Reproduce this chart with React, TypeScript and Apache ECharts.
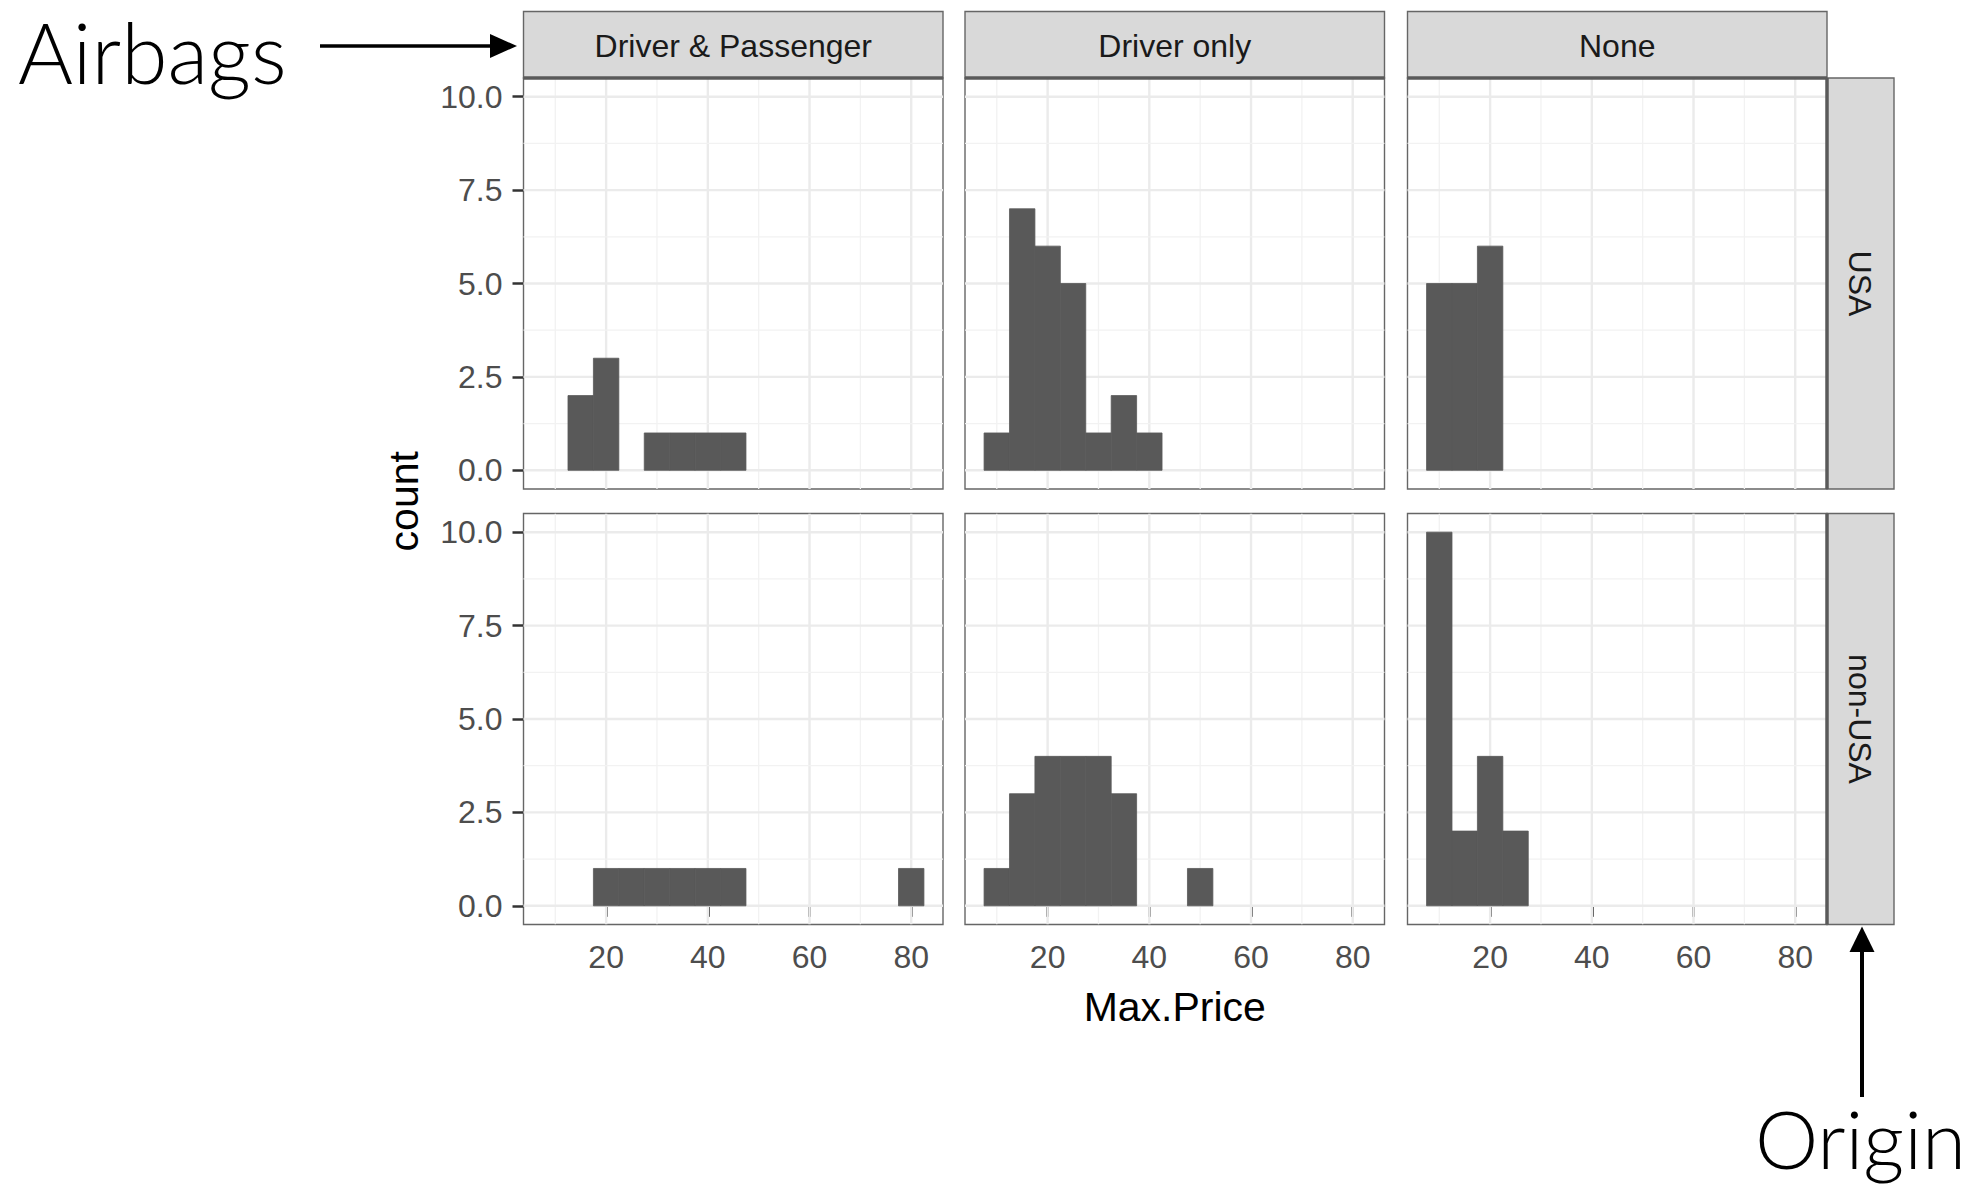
import React, { useEffect, useRef } from "react";
import * as echarts from "echarts";

// ---------- data ----------
const BIN_WIDTH = 5;
const BIN_CENTERS = [10, 15, 20, 25, 30, 35, 40, 45, 50, 55, 60, 65, 70, 75, 80];
const AIRBAGS = ["Driver & Passenger", "Driver only", "None"];
const ORIGINS = ["USA", "non-USA"];

const COUNTS_USA_DRIVER_PASSENGER = [0, 2, 3, 0, 1, 1, 1, 1, 0, 0, 0, 0, 0, 0, 0];
const COUNTS_USA_DRIVER_ONLY = [1, 7, 6, 5, 1, 2, 1, 0, 0, 0, 0, 0, 0, 0, 0];
const COUNTS_USA_NONE = [5, 5, 6, 0, 0, 0, 0, 0, 0, 0, 0, 0, 0, 0, 0];
const COUNTS_NONUSA_DRIVER_PASSENGER = [0, 0, 1, 1, 1, 1, 1, 1, 0, 0, 0, 0, 0, 0, 1];
const COUNTS_NONUSA_DRIVER_ONLY = [1, 3, 4, 4, 4, 3, 0, 0, 1, 0, 0, 0, 0, 0, 0];
const COUNTS_NONUSA_NONE = [10, 2, 4, 2, 0, 0, 0, 0, 0, 0, 0, 0, 0, 0, 0];

const COUNTS = [
  [COUNTS_USA_DRIVER_PASSENGER, COUNTS_USA_DRIVER_ONLY, COUNTS_USA_NONE],
  [COUNTS_NONUSA_DRIVER_PASSENGER, COUNTS_NONUSA_DRIVER_ONLY, COUNTS_NONUSA_NONE],
];

const X_TICKS = [20, 40, 60, 80];
const X_MINOR = [10, 30, 50, 70];
const Y_TICKS = [0, 2.5, 5, 7.5, 10];
const Y_MINOR = [1.25, 3.75, 6.25, 8.75];
const X_MIN = 3.75;
const X_MAX = 86.25;
const Y_MIN = -0.5;
const Y_MAX = 10.5;

const X_TITLE = "Max.Price";
const Y_TITLE = "count";
const NOTE_COLS = "Airbags";
const NOTE_ROWS = "Origin";

// ---------- layout ----------
const W = 1973;
const H = 1187;
const COL_LEFT = [523.5, 965, 1407.5];
const PANEL_W = 419.5;
const ROW_TOP = [78, 513.5];
const PANEL_H = 411;
const STRIP_TOP = 11.5;
const STRIP_RW = 67;

const FONT = "'Liberation Sans', Arial, Helvetica, sans-serif";
const NOTE_FONT = "Lato, 'Open Sans', 'Liberation Sans', sans-serif";
const BAR_FILL = "#595959";
const BORDER = "#666666";
const DARK = "#5a5a5a";

export default function App() {
  const ref = useRef<HTMLDivElement | null>(null);

  useEffect(() => {
    if (!ref.current) return;
    const chart = echarts.init(ref.current, undefined, { renderer: "svg" });

    const grids: any[] = [];
    const xAxes: any[] = [];
    const yAxes: any[] = [];
    const series: any[] = [];

    const gridData: number[][] = [];
    X_TICKS.forEach((v) => gridData.push([0, v, 1]));
    X_MINOR.forEach((v) => gridData.push([0, v, 0]));
    Y_TICKS.forEach((v) => gridData.push([1, v, 1]));
    Y_MINOR.forEach((v) => gridData.push([1, v, 0]));

    let idx = 0;
    for (let r = 0; r < 2; r++) {
      for (let c = 0; c < 3; c++) {
        grids.push({
          left: COL_LEFT[c],
          top: ROW_TOP[r],
          width: PANEL_W,
          height: PANEL_H,
          show: true,
          backgroundColor: "#ffffff",
          borderColor: BORDER,
          borderWidth: 1.4,
          containLabel: false,
          outerBoundsMode: "none",
        });
        const bottomRow = r === 1;
        const leftCol = c === 0;
        xAxes.push({
          type: "value",
          gridIndex: idx,
          min: X_MIN,
          max: X_MAX,
          axisLine: { show: false },
          splitLine: { show: false },
          axisTick: {
            show: bottomRow,
            length: 11,
            customValues: X_TICKS,
            lineStyle: { color: "#333333", width: 2.5 },
          },
          axisLabel: {
            show: bottomRow,
            customValues: X_TICKS,
            margin: 16,
            fontSize: 32,
            fontFamily: FONT,
            color: "#4D4D4D",
          },
        });
        yAxes.push({
          type: "value",
          gridIndex: idx,
          min: Y_MIN,
          max: Y_MAX,
          axisLine: { show: false },
          splitLine: { show: false },
          axisTick: {
            show: leftCol,
            length: 11,
            customValues: Y_TICKS,
            lineStyle: { color: "#333333", width: 2.5 },
          },
          axisLabel: {
            show: leftCol,
            customValues: Y_TICKS,
            margin: 21,
            fontSize: 32,
            fontFamily: FONT,
            color: "#4D4D4D",
            formatter: (v: number) => v.toFixed(1),
          },
        });

        series.push({
          type: "custom",
          xAxisIndex: idx,
          yAxisIndex: idx,
          z: 1,
          silent: true,
          clip: true,
          data: gridData,
          renderItem: (params: any, api: any) => {
            const cs = params.coordSys;
            const orient = api.value(0);
            const v = api.value(1);
            const major = api.value(2) === 1;
            const style = {
              stroke: major ? "#EBEBEB" : "#F2F2F2",
              lineWidth: major ? 2.4 : 1.3,
            };
            if (orient === 0) {
              const px = api.coord([v, 0])[0];
              return {
                type: "line",
                shape: { x1: px, y1: cs.y, x2: px, y2: cs.y + cs.height },
                style,
              };
            }
            const py = api.coord([X_TICKS[0], v])[1];
            return {
              type: "line",
              shape: { x1: cs.x, y1: py, x2: cs.x + cs.width, y2: py },
              style,
            };
          },
        });

        const counts = COUNTS[r][c];
        const barData = BIN_CENTERS.map((bc, i) => [bc, counts[i]]).filter(
          (d) => d[1] > 0
        );
        series.push({
          type: "custom",
          name: `${ORIGINS[r]} / ${AIRBAGS[c]}`,
          xAxisIndex: idx,
          yAxisIndex: idx,
          z: 2,
          data: barData,
          renderItem: (params: any, api: any) => {
            const center = api.value(0);
            const n = api.value(1);
            const p0 = api.coord([center - BIN_WIDTH / 2, n]);
            const p1 = api.coord([center + BIN_WIDTH / 2, 0]);
            return {
              type: "rect",
              shape: {
                x: p0[0],
                y: p0[1],
                width: p1[0] - p0[0],
                height: p1[1] - p0[1],
              },
              style: { fill: BAR_FILL, stroke: BAR_FILL, lineWidth: 0.8 },
            };
          },
        });
        idx++;
      }
    }

    const graphic: any[] = [];
    // top strips
    for (let c = 0; c < 3; c++) {
      graphic.push({
        type: "rect",
        z: 50,
        shape: { x: COL_LEFT[c], y: STRIP_TOP, width: PANEL_W, height: ROW_TOP[0] - STRIP_TOP },
        style: { fill: "#D9D9D9", stroke: BORDER, lineWidth: 1.4 },
      });
      graphic.push({
        type: "line",
        z: 51,
        shape: { x1: COL_LEFT[c], y1: ROW_TOP[0], x2: COL_LEFT[c] + PANEL_W, y2: ROW_TOP[0] },
        style: { stroke: DARK, lineWidth: 3.5 },
      });
      graphic.push({
        type: "text",
        z: 52,
        x: COL_LEFT[c] + PANEL_W / 2,
        y: (STRIP_TOP + ROW_TOP[0]) / 2 + 1,
        style: {
          text: AIRBAGS[c],
          fontSize: 32,
          fontFamily: FONT,
          fill: "#1A1A1A",
          align: "center",
          verticalAlign: "middle",
          textAlign: "center",
          textVerticalAlign: "middle",
        },
      });
    }
    // right strips
    const stripX = COL_LEFT[2] + PANEL_W;
    for (let r = 0; r < 2; r++) {
      graphic.push({
        type: "rect",
        z: 50,
        shape: { x: stripX, y: ROW_TOP[r], width: STRIP_RW, height: PANEL_H },
        style: { fill: "#D9D9D9", stroke: BORDER, lineWidth: 1.4 },
      });
      graphic.push({
        type: "line",
        z: 51,
        shape: { x1: stripX, y1: ROW_TOP[r], x2: stripX, y2: ROW_TOP[r] + PANEL_H },
        style: { stroke: DARK, lineWidth: 3.5 },
      });
      graphic.push({
        type: "text",
        z: 52,
        x: stripX + STRIP_RW / 2 - 1,
        y: ROW_TOP[r] + PANEL_H / 2,
        rotation: -Math.PI / 2,
        style: {
          text: ORIGINS[r],
          x: 0,
          y: 0,
          fontSize: 32,
          fontFamily: FONT,
          fill: "#1A1A1A",
          align: "center",
          verticalAlign: "middle",
          textAlign: "center",
          textVerticalAlign: "middle",
        },
      });
    }
    // axis titles
    graphic.push({
      type: "text",
      z: 52,
      x: COL_LEFT[1] + PANEL_W / 2,
      y: 1007,
      style: {
        text: X_TITLE,
        fontSize: 41,
        fontFamily: FONT,
        fill: "#000000",
        align: "center",
        verticalAlign: "middle",
        textAlign: "center",
        textVerticalAlign: "middle",
      },
    });
    graphic.push({
      type: "text",
      z: 52,
      x: 404,
      y: (ROW_TOP[0] + ROW_TOP[1] + PANEL_H) / 2,
      rotation: Math.PI / 2,
      style: {
        text: Y_TITLE,
        x: 0,
        y: 0,
        fontSize: 41,
        fontFamily: FONT,
        fill: "#000000",
        align: "center",
        verticalAlign: "middle",
        textAlign: "center",
        textVerticalAlign: "middle",
      },
    });
    // annotations
    graphic.push({
      type: "text",
      z: 60,
      x: 18,
      y: 51,
      style: {
        text: NOTE_COLS,
        fontSize: 84,
        fontWeight: 300,
        fontFamily: NOTE_FONT,
        fill: "#000000",
        align: "left",
        verticalAlign: "middle",
        textAlign: "left",
        textVerticalAlign: "middle",
      },
    });
    graphic.push({
      type: "line",
      z: 60,
      shape: { x1: 320, y1: 46, x2: 494, y2: 46 },
      style: { stroke: "#000000", lineWidth: 3.6 },
    });
    graphic.push({
      type: "polygon",
      z: 60,
      shape: { points: [[490, 34], [517, 46], [490, 58]] },
      style: { fill: "#000000" },
    });
    graphic.push({
      type: "text",
      z: 60,
      x: 1966,
      y: 1138,
      style: {
        text: NOTE_ROWS,
        fontSize: 80,
        fontWeight: 300,
        fontFamily: NOTE_FONT,
        fill: "#000000",
        align: "right",
        verticalAlign: "middle",
        textAlign: "right",
        textVerticalAlign: "middle",
      },
    });
    graphic.push({
      type: "line",
      z: 60,
      shape: { x1: 1862, y1: 1097, x2: 1862, y2: 948 },
      style: { stroke: "#000000", lineWidth: 4 },
    });
    graphic.push({
      type: "polygon",
      z: 60,
      shape: { points: [[1849.5, 952], [1862, 926.5], [1874.5, 952]] },
      style: { fill: "#000000" },
    });

    chart.setOption({
      animation: false,
      backgroundColor: "#ffffff",
      grid: grids,
      xAxis: xAxes,
      yAxis: yAxes,
      series,
      graphic,
    });

    return () => {
      chart.dispose();
    };
  }, []);

  return (
    <div
      ref={ref}
      style={{ position: "fixed", left: 0, top: 0, width: W, height: H }}
    />
  );
}
